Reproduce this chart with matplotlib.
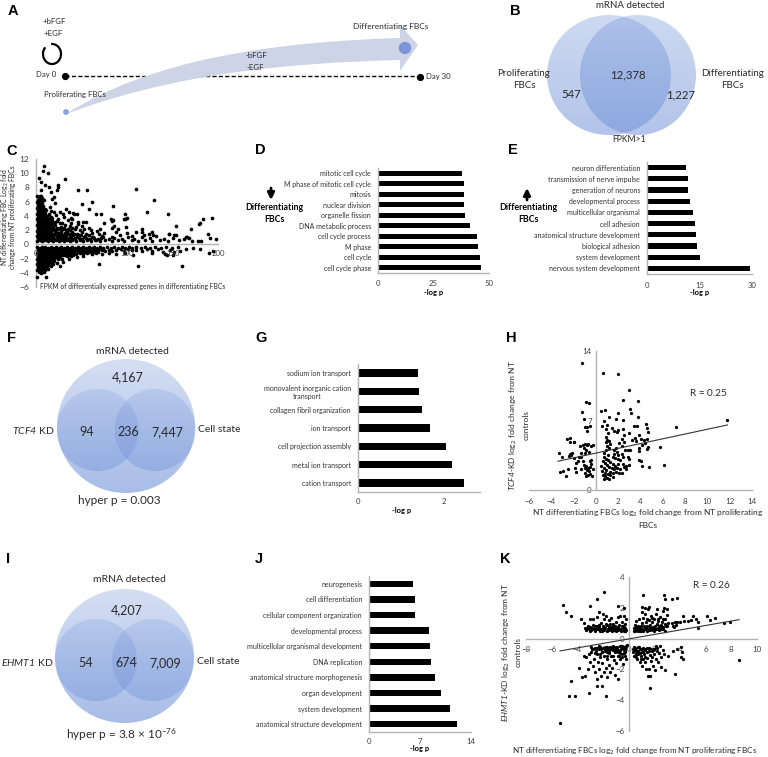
import numpy as np
import matplotlib
matplotlib.use('Agg')
from matplotlib import pyplot as plt
from matplotlib.patches import Ellipse, Circle, Arc, PathPatch
from matplotlib.path import Path

plt.rcParams['font.family'] = ['Lato', 'DejaVu Sans']
plt.rcParams['mathtext.fontset'] = 'custom'
plt.rcParams['mathtext.rm'] = 'Lato:italic'
plt.rcParams['mathtext.default'] = 'regular'

# bar panels, listed bottom to top
d_terms = ['cell cycle phase', 'cell cycle', 'M phase', 'cell cycle process', 'DNA metabolic process',
           'organelle fission', 'nuclear division', 'mitosis', 'M phase of mitotic cell cycle', 'mitotic cell cycle']
d_vals = [46.4, 45.8, 45.1, 44.8, 41.5, 39.4, 38.8, 38.8, 38.8, 37.9]
e_terms = ['nervous system development', 'system development', 'biological adhesion',
           'anatomical structure development', 'cell adhesion', 'multicellular organismal',
           'developmental process', 'generation of neurons', 'transmission of nerve impulse',
           'neuron differentiation']
e_vals = [29.3, 15.0, 14.2, 14.0, 13.8, 13.1, 12.4, 11.7, 11.6, 11.0]
g_terms = ['cation transport', 'metal ion transport', 'cell projection assembly', 'ion transport',
           'collagen fibril organization', 'monovalent inorganic cation\ntransport', 'sodium ion transport']
g_vals = [2.45, 2.17, 2.03, 1.68, 1.48, 1.41, 1.39]
j_terms = ['anatomical structure development', 'system development', 'organ development',
           'anatomical structure morphogenesis', 'DNA replication', 'multicellular organismal development',
           'developmental process', 'cellular component organization', 'cell differentiation', 'neurogenesis']
j_vals = [12.07, 11.05, 9.95, 9.07, 8.52, 8.34, 8.2, 6.31, 6.26, 6.03]

# panel C, FPKM against log2 fold change
c_upper = [(1,.5),(4,.6),(7,.45),(10,.55),(13,.5),(16,.6),(19,.45),(22,.55),(25,.5),(28,.6),(31,.45),(34,.55),
           (37,.5),(40,.6),(44,.45),(48,.55),(52,.5),(56,.6),(60,.45),(65,.55),(70,.5),(76,.6),(83,.45),(90,.55),
           (97,.5),(105,.6),(112,.45),(120,.55),(128,.5),(136,.6),(145,.5),(2,.85),(5,.8),(8,.9),(11,.8),(14,.85),
           (17,.9),(20,.8),(24,.85),(27,.95),(30,.8),(33,.85),(36,.95),(40,.8),(43,.9),(47,.85),(51,.8),(55,.95),
           (59,.8),(64,.9),(68,.75),(74,1.0),(80,.8),(86,.95),(94,.8),(101,1.0),(108,.75),(116,1.1),(125,.9),
           (1,1.15),(4,1.2),(7,1.1),(10,1.2),(13,1.15),(16,1.25),(19,1.1),(23,1.2),(26,1.3),(29,1.1),(33,1.25),
           (37,1.15),(41,1.3),(45,1.1),(49,1.35),(54,1.15),(58,1.3),(63,1.1),(69,1.4),(73,1.2),(84,1.1),(92,1.3),
           (105,1.2),(119,1.3),(129,1.3),(2,1.5),(5,1.55),(8,1.45),(11,1.5),(14,1.6),(18,1.45),(21,1.55),(24,1.65),
           (28,1.5),(32,1.6),(36,1.45),(40,1.7),(45,1.5),(50,1.75),(55,1.5),(61,1.6),(67,1.85),(75,1.6),(88,1.7),
           (100,1.6),(128,1.75),(1,1.9),(4,1.95),(7,1.85),(10,2.0),(13,1.9),(16,2.0),(20,1.95),(24,2.1),(28,1.9),
           (33,2.05),(37,1.95),(43,2.15),(48,2.0),(53,2.2),(60,2.05),(70,2.2),(84,2.3),(117,2.1),(2,2.3),(5,2.35),
           (8,2.25),(11,2.4),(15,2.3),(19,2.45),(23,2.35),(27,2.5),(31,2.3),(37,2.55),(44,2.4),(50,2.6),(58,2.35),
           (86,2.6),(99,2.5),(1,2.7),(4,2.75),(7,2.65),(10,2.8),(13,2.7),(17,2.9),(21,2.75),(26,2.95),(32,2.7),
           (38,3.0),(46,2.8),(55,3.1),(84,3.3),(2,3.1),(5,3.15),(8,3.05),(11,3.2),(14,3.1),(18,3.25),(23,3.35),
           (29,3.05),(35,3.4),(46,3.2),(52,3.1),(82,3.55),(1,3.5),(4,3.55),(7,3.45),(10,3.6),(14,3.5),(18,3.7),
           (24,3.55),(31,3.8),(40,3.6),(85,3.4),(98,3.6),(2,3.9),(5,3.95),(8,3.85),(12,4.0),(16,3.9),(22,4.1),
           (30,4.25),(42,4.3),(1,4.3),(4,4.35),(7,4.25),(10,4.4),(14,4.3),(20,4.5),(36,4.55),(45,4.2),(2,4.7),
           (5,4.75),(8,4.65),(11,4.8),(16,4.7),(26,4.6),(1,5.1),(4,5.15),(7,5.05),(10,5.0),(15,5.2),(2,5.5),
           (5,5.55),(8,5.45),(1,5.9),(4,5.95),(7,5.85),(2,6.3),(5,6.35),(9,6.25),(1,6.8),(4,6.85),(6,6.75),
           (150,.9),(157,.6),(163,.7),(166,1.1),(168,.9),(171,.5),(178,.4),(154,1.3),(146,1.4),(141,.8),(132,1.2)]
c_lower = [(1,-.4),(4,-.45),(7,-.35),(10,-.4),(13,-.5),(16,-.35),(19,-.45),(22,-.4),(25,-.5),(28,-.35),(31,-.45),
           (34,-.4),(37,-.5),(40,-.35),(43,-.45),(46,-.4),(49,-.5),(52,-.35),(55,-.45),(58,-.4),(61,-.5),(64,-.35),
           (67,-.45),(70,-.4),(74,-.5),(78,-.35),(82,-.45),(86,-.4),(90,-.5),(94,-.35),(98,-.45),(102,-.4),(106,-.5),
           (110,-.35),(115,-.45),(120,-.4),(125,-.5),(131,-.35),(137,-.45),(143,-.4),(149,-.5),(156,-.4),(2,-.8),
           (5,-.85),(8,-.75),(11,-.8),(14,-.9),(17,-.75),(20,-.85),(23,-.8),(26,-.9),(29,-.75),(32,-.85),(35,-.8),
           (38,-.9),(41,-.75),(44,-.85),(47,-.8),(50,-.9),(53,-.75),(56,-.85),(59,-.8),(62,-.95),(65,-.75),(68,-.85),
           (72,-.8),(76,-1.0),(80,-.75),(84,-.9),(88,-.8),(93,-.7),(97,-.95),(101,-.7),(106,-.85),(110,-.75),
           (116,-.9),(122,-.7),(128,-.95),(134,-.7),(140,-1.05),(147,-.8),(152,-1.1),(158,-.9),(1,-1.2),(4,-1.25),
           (7,-1.15),(10,-1.2),(13,-1.3),(16,-1.15),(19,-1.25),(22,-1.2),(25,-1.3),(28,-1.15),(31,-1.25),(34,-1.2),
           (37,-1.35),(40,-1.15),(44,-1.3),(48,-1.2),(52,-1.35),(56,-1.15),(61,-1.3),(66,-1.2),(72,-1.4),(80,-1.2),
           (88,-1.3),(98,-1.2),(107,-1.45),(128,-1.2),(142,-1.3),(144,-1.5),(150,-1.45),(2,-1.6),(5,-1.65),(8,-1.55),
           (11,-1.6),(14,-1.7),(17,-1.55),(20,-1.65),(23,-1.6),(26,-1.7),(30,-1.55),(34,-1.7),(38,-1.6),(45,-1.75),
           (52,-1.65),(1,-2.0),(4,-2.05),(7,-1.95),(10,-2.0),(13,-2.1),(16,-1.95),(20,-2.05),(24,-2.0),(29,-2.1),
           (36,-2.0),(2,-2.4),(5,-2.45),(8,-2.35),(11,-2.4),(14,-2.5),(18,-2.35),(23,-2.6),(30,-2.5),(1,-2.8),
           (4,-2.85),(7,-2.75),(10,-2.8),(13,-2.9),(19,-2.8),(26,-3.1),(2,-3.2),(5,-3.25),(8,-3.15),(11,-3.2),
           (16,-3.1),(1,-3.6),(4,-3.65),(7,-3.55),(10,-3.6),(13,-3.5),(3,-3.95),(6,-4.05),(9,-3.9),(1,-4.6),(11,-4.6),
           (69,-2.8),(112,-3.0),(160,-3.0),(194,-.9),(180,-.6),(165,-.7),(172,-.45),(190,-1.2)]
c_fill = [(3,.7),(6,1.0),(9,.65),(12,1.0),(15,.7),(18,1.0),(21,.7),(25,1.05),(28,.7),(31,1.05),(35,.7),(38,1.05),
          (42,.7),(46,1.05),(50,.65),(53,1.0),(57,.7),(62,1.0),(66,.65),(71,.95),(3,1.35),(6,1.35),(9,1.3),(12,1.35),
          (15,1.4),(17,1.7),(20,1.3),(22,1.75),(25,1.4),(27,1.75),(30,1.35),(34,1.75),(38,1.4),(42,1.5),(47,1.3),
          (3,1.75),(6,1.7),(9,1.7),(12,1.7),(3,2.1),(6,2.1),(9,2.05),(12,2.15),(15,2.05),(18,2.2),(22,2.1),(26,2.25),
          (30,2.1),(35,2.2),(40,2.3),(3,2.5),(6,2.5),(9,2.5),(12,2.5),(16,2.55),(3,2.9),(6,2.9),(9,2.95),(12,2.95),
          (15,2.95),(19,3.0),(3,3.3),(6,3.3),(9,3.35),(12,3.35),(16,3.4),(21,3.1),(3,3.7),(6,3.7),(9,3.75),(12,3.7),
          (3,4.1),(6,4.1),(9,4.15),(14,4.1),(3,4.5),(6,4.55),(9,4.55),(3,4.95),(6,4.95),(3,5.3),(6,5.3),(3,5.7),(6,5.75),
          (3,6.1),(6,6.1),(3,6.55),(7,6.5),(3,-.65),(6,-.6),(9,-.6),(12,-.65),(15,-.65),(18,-.6),(21,-.65),(24,-.65),
          (27,-.6),(30,-.65),(33,-.6),(36,-.65),(39,-.6),(42,-.65),(45,-.6),(48,-.65),(51,-.6),(54,-.65),(57,-.6),
          (60,-.65),(63,-.65),(66,-.6),(70,-.65),(74,-.65),(3,-1.0),(6,-1.0),(9,-1.0),(12,-1.05),(15,-1.0),(18,-1.05),
          (21,-1.0),(24,-1.05),(27,-1.0),(30,-1.05),(33,-1.0),(36,-1.1),(39,-1.05),(42,-1.05),(46,-1.05),(50,-1.1),
          (54,-1.05),(58,-1.1),(63,-1.05),(68,-1.1),(3,-1.4),(6,-1.4),(9,-1.4),(12,-1.45),(15,-1.4),(18,-1.45),(21,-1.4),
          (24,-1.45),(27,-1.45),(32,-1.45),(36,-1.5),(41,-1.45),(3,-1.8),(6,-1.8),(9,-1.8),(12,-1.85),(15,-1.8),(19,-1.85),
          (22,-1.8),(26,-1.9),(3,-2.2),(6,-2.2),(9,-2.2),(12,-2.25),(15,-2.25),(20,-2.3),(3,-2.6),(6,-2.6),(9,-2.6),
          (12,-2.65),(16,-2.65),(3,-3.0),(6,-3.0),(9,-3.0),(12,-3.05),(3,-3.4),(6,-3.4),(9,-3.4),(12,-3.35)]
c_sparse = [(9,11),(8,10.3),(13,10),(3,9.3),(5.5,8.8),(10,8.3),(14,8.1),(32,9.2),(24,8.3),(24,8),(23,7.7),(46,7.6),
            (55.5,7.7),(110,7.85),(16,7.3),(5,7.6),(20,6.6),(17.5,6.4),(21,5.8),(130,6.2),(62,5.9),(50,5.7),(85,5.4),
            (33,4.9),(58,4.9),(122,4.6),(145,4.2),(98,4.3),(193,3.7),(183,3.5),(180,3),(179,2.8),(154,2.6),(170,2.2),
            (189,1.4),(191,.9),(198,.75),(181,.4),(165,1.0),(97,3.6),(100,3.65),(41,4.4),(38,3.7),(66,4.3),(71,4.2),
            (75,3.0),(90,2.2),(110,1.7),(117,1.7),(124,1.4),(146,1.4),(152,1.3)]

# panel H
h_points = [(-1.26,12.8),(.6,11.8),(2,11.7),(3,10.1),(2.46,9.06),(3.75,8.96),(-.87,8.83),(-.63,8.73),(3.03,8.2),
            (3.18,7.8),(3.75,7.4),(.5,8),(.78,8.06),(-1.29,7.86),(1.15,7.4),(1.95,7.75),(1.8,7.2),(2.45,7.1),(.75,6.95),
            (-1.1,7.2),(7.14,6.35),(11.78,7.09),(5.73,4.3),(6.15,2.47),(4.77,2.27),(-.55,6.4),(-1,6.3),(-.8,6.35),
            (.55,6.45),(1,6.55),(1.4,6.2),(2.0,6.0),(2.4,6.1),(3.4,6.45),(3.7,6.45),(4.5,6.6),(4.6,6.2),(4.7,5.8),
            (3.0,5.7),(1.6,5.9),(1.9,5.85),(.9,6.1),(1.1,5.7),(3.5,5.2),(3.9,5.5),(2.5,5.5),(2.3,5.1),(2.1,4.7),
            (2.5,4.85),(4.0,5.1),(4.3,5.0),(4.6,5.15),(3.2,5.0),(3.6,4.95),(4.4,4.7),(4.1,4.5),(3.9,4.2),(4.7,4.3),
            (4.55,4.15),(3.85,3.9),(3.1,4.0),(2.9,4.0),(2.6,4.05),(2.3,4.4),(1.8,4.2),(1.6,4.0),(.95,5.3),(1,5.05),
            (1.2,4.95),(.95,4.8),(1.3,4.6),(1.0,4.4),(1.15,4.2),(.9,4.05),(.75,3.75),(1.05,3.55),(1.6,3.6),(1.85,3.85),
            (2.0,3.55),(2.3,3.6),(1.5,3.3),(1.7,3.2),(1.95,3.1),(2.2,3.0),(2.4,3.3),(2.9,3.3),(.7,3.35),(.9,3.1),
            (1.1,3.0),(.6,2.9),(.8,2.7),(1.0,2.5),(1.25,2.8),(1.5,2.6),(1.75,2.45),(2.0,2.65),(2.4,2.6),(2.7,2.4),
            (3.0,2.5),(3,3.15),(.5,2.4),(.7,2.2),(.95,2.05),(1.15,2.3),(1.4,2.2),(1.6,2.1),(1.9,2.2),(2.2,2.15),
            (2.5,2.3),(2.7,2.1),(.55,1.9),(.8,1.75),(1.05,1.6),(1.25,1.85),(1.5,1.75),(1.8,1.85),(2.1,1.7),(2.35,1.75),
            (.6,1.55),(.85,1.4),(1.0,1.25),(1.3,1.5),(1.55,1.35),(.75,1.15),(1.15,1.1),(3.9,3.0),(4.05,2.95),(4.15,2.45),
            (-3.35,3.7),(-3.2,1.8),(-2.95,1.9),(-3,3.3),(-2.7,1.4),(-2.6,5.1),(-2.3,5.2),(-2.1,3.7),(-2.35,3.6),(-2.4,3.4),
            (-2.2,3.5),(-2.5,2.1),(-2,4.8),(-1.95,4.8),(-2.3,4.85),(-2,3.2),(-1.8,2.7),(-1.9,2.2),(-1.8,1.8),(-1.6,2.9),
            (-1.5,3.3),(-1.35,3.35),(-1.3,3.7),(-1.2,4.5),(-1,4.6),(-.8,4.5),(-.7,4.6),(-1.1,4.2),(-.9,4),(-1,3.7),(-.6,3.8),
            (-1.2,2.9),(-1.1,2.5),(-1,2.2),(-.9,2.4),(-.8,2),(-.7,2.2),(-.6,1.9),(-.5,1.6),(-1,1.7),(-1.3,2.1),(-.55,2.3),
            (-.45,2.6),(-.4,3),(-.5,2.9),(-.7,1.5),(-.9,1.4),(-.35,1.4),(-.3,2.1),(-.8,5.9),(-1.4,4.4),(-.45,4.4),(-.3,4.5)]

# panel K
k_points = [(-5.1,2.2),(-4.9,1.7),(-4.5,1.45),(-3.7,1.3),(-3.5,1.0),(-3.4,.7),(-3.3,.55),(-3.2,.85),(-3.1,.6),(-3,1.25),
            (-3,.75),(-2.9,.55),(-2.8,.9),(-2.75,1.3),(-2.7,.65),(-2.6,.5),(-2.5,.85),(-2.45,1.4),(-2.4,.6),(-2.3,.75),
            (-2.2,.5),(-2.15,1.0),(-2.1,.65),(-2,.85),(-1.95,.55),(-1.9,1.3),(-1.85,.7),(-1.8,1.45),(-1.7,.5),(-1.65,.9),
            (-1.6,.65),(-1.55,1.2),(-1.5,.55),(-1.4,.75),(-1.35,1.35),(-1.3,.5),(-1.25,.95),(-1.2,.65),(-1.15,.55),(-1.1,.8),
            (-1,.5),(-.95,1.1),(-.9,.7),(-.85,1.4),(-.8,.55),(-.75,.9),(-.7,.65),(-.65,1.5),(-.6,.5),(-.55,.8),(-.5,1.05),
            (-.45,.6),(-.4,1.5),(-.35,.75),(-.3,.5),(-.28,.95),(-.25,.65),(-.22,1.3),(-.2,.55),(-2.5,2.55),(-2.0,1.6),
            (-3.0,2.1),(-1.9,3.05),(-.8,2.1),(-.4,2.0),(-2.3,1.7),
            (.4,.5),(.45,.7),(.5,.9),(.55,.55),(.6,1.15),(.65,.65),(.7,.5),(.75,.85),(.8,1.3),(.85,.6),(.9,.75),(.95,.5),
            (1,1.0),(1.05,.65),(1.1,1.35),(1.15,.55),(1.2,.8),(1.25,1.6),(1.3,.6),(1.35,1.1),(1.4,.5),(1.45,.85),(1.5,1.9),
            (1.55,.65),(1.6,1.2),(1.65,.55),(1.7,.9),(1.75,1.45),(1.8,.6),(1.85,1.05),(1.9,.75),(1.95,.5),(2,1.3),(2.05,.85),
            (2.1,.6),(2.15,1.6),(2.2,.95),(2.25,.7),(2.3,1.15),(2.35,.55),(2.4,.8),(2.45,1.4),(2.5,.9),(2.55,.65),(2.6,1.05),
            (2.65,1.8),(2.7,.75),(2.75,2.0),(2.8,.95),(2.85,1.25),(2.9,.85),(2.95,1.55),(3,1.9),(3.05,1.0),(3.4,1.0),(3.45,.85),
            (3.5,.75),(3.6,1.05),(3.7,.9),(3.8,1.1),(4,1.1),(4.2,1.5),(4.35,1.15),(4.6,1.15),(4.85,1.2),(5,1.5),(5.25,1.3),
            (5.4,1.1),(5.4,.7),(6.1,1.5),(6.35,1.2),(6.7,1.35),(7.4,1.0),(7.9,1.05),(1.1,2.8),(1.3,2.0),(1.6,2.05),(2.75,2.8),
            (2.85,2.6),(3.4,2.55),(3.8,2.65),(2.8,.5),(1.0,2.05),(1.05,1.7),(2.2,1.9),
            (-5.35,-5.45),(-4.65,-3.7),(-4.2,-3.75),(-3.85,-1.9),(-4.5,-2.75),(-3.1,-3.55),(-1.75,-3.75),(-2.5,-3.1),(-2.05,-3.1),
            (-3.6,-2.5),(-3.4,-2.4),(-3.3,-1.2),(-3.1,-1.0),(-3.5,-1.1),(-3.2,-2.0),(-3,-1.55),(-2.95,-.9),(-2.8,-1.8),(-2.7,-1.3),
            (-2.6,-2.2),(-2.6,-.6),(-2.5,-1.0),(-2.45,-2.6),(-2.4,-1.5),(-2.35,-.7),(-2.3,-2.0),(-2.25,-1.2),(-2.2,-.55),(-2.15,-2.4),
            (-2.1,-.9),(-2.05,-1.6),(-2,-.6),(-1.95,-2.2),(-1.9,-1.1),(-1.85,-.8),(-1.8,-1.9),(-1.75,-.55),(-1.7,-2.5),(-1.65,-1.3),
            (-1.6,-.7),(-1.55,-1.7),(-1.5,-.95),(-1.45,-2.2),(-1.4,-.6),(-1.35,-1.15),(-1.3,-1.9),(-1.25,-.75),(-1.2,-.5),(-1.15,-1.4),
            (-1.1,-2.35),(-1.05,-.9),(-1,-.55),(-.95,-1.6),(-.9,-.7),(-.85,-1.15),(-.8,-2.6),(-.75,-.8),(-.7,-.5),(-.65,-1.3),(-.6,-.65),
            (-.55,-1.0),(-.5,-.5),(-.45,-1.65),(-.4,-.75),(-.35,-.55),(-.3,-1.1),(-.28,-.85),(-.25,-.6),(-.22,-1.3),(-.2,-.5),
            (-2.9,-.55),(-2.75,-.7),(-2.65,-.95),(-2.3,-.5),(-1.95,-.6),(-1.7,-.85),(-1.45,-.55),(-1.15,-.6),(-.95,-.8),(-.7,-.95),
            (.3,-.65),(.35,-.9),(.4,-1.1),(.45,-.55),(.5,-.75),(.55,-1.0),(.6,-.6),(.65,-1.3),(.7,-.8),(.75,-1.0),(.8,-.55),(.85,-1.55),
            (.9,-.7),(.95,-1.15),(1,-.9),(1.05,-1.75),(1.1,-.6),(1.15,-1.3),(1.2,-1.0),(1.25,-.75),(1.3,-1.5),(1.35,-2.0),(1.4,-.9),
            (1.45,-1.25),(1.5,-2.4),(1.55,-.6),(1.6,-2.0),(1.65,-1.05),(1.7,-2.45),(1.75,-1.45),(1.8,-.8),(1.85,-1.2),(1.9,-1.75),(1.95,-.65),
            (2,-1.0),(2.05,-2.05),(2.1,-.5),(2.15,-1.3),(2.2,-.8),(2.3,-1.5),(2.4,-.95),(2.45,-.5),(2.5,-1.2),(2.55,-1.85),(2.65,-.75),
            (2.75,-1.0),(2.8,-2.05),(3.05,-1.1),(3.45,-.8),(3.6,-2.3),(3.8,-.7),(4.05,-.55),(4.1,-1.2),(4.15,-.85),(4.2,-1.35),
            (1.65,-3.2),(8.6,-1.4),(-.1,-.4)]
k_fill = [(-3.25,.7),(-3.05,.5),(-2.85,.7),(-2.65,.85),(-2.55,.6),(-2.35,.9),(-2.25,.6),(-2.05,.5),(-1.9,.75),(-1.75,.95),(-1.55,.75),
          (-1.45,.95),(-1.35,.65),(-1.2,.85),(-1.05,.65),(-.95,.55),(-.85,.75),(-.65,.6),(-.55,.55),(-.45,.85),(-.4,.5),(-.3,.7),(-.25,.5),
          (.5,.5),(.6,.75),(.7,.65),(.85,.5),(.95,.85),(1.1,.5),(1.25,.65),(1.35,.7),(1.5,.55),(1.6,.8),(1.75,.7),(1.9,.55),(2,.7),(2.2,.6),
          (2.4,.65),(2.55,.8),(2.7,.6),(3,.8),(1.4,1.3),(1.85,1.35),(2.25,1.3),(2.65,1.3),(-2.85,-.7),(-2.55,-.8),(-2.45,-.6),(-2.15,-.7),
          (-2.05,-.85),(-1.8,-.65),(-1.65,-.55),(-1.55,-.8),(-1.35,-.7),(-1.3,-.55),(-1.1,-.8),(-1.05,-.6),(-.9,-.55),(-.8,-.85),(-.65,-.75),
          (-.6,-.5),(-.45,-.6),(-.4,-.95),(-.3,-.6),(-.25,-.75),(-1.7,-1.1),(-1.2,-1.1),(-.75,-1.1),(-.5,-1.2),(-2.2,-1.0),(.4,-.7),(.55,-.8),
          (.7,-.55),(.85,-.95),(1,-.65),(1.15,-.85),(1.3,-.7),(1.45,-.6),(1.6,-.8),(1.75,-.65),(2.0,-.7),(2.2,-.6),(.6,-1.2),(.95,-1.35),(1.3,-1.2)]

h_trend_x = [-3.4, 11.8]
h_trend_y = [2.9, 6.55]
k_trend_x = [-5.35, 8.6]
k_trend_y = [-.8, 1.23]

W, H = 768, 757
fig = plt.figure(figsize=(W / 100, H / 100), dpi=100)
GREY = '#b4b4b4'
TXT = '#2a2a2a'


def panel(left, top, right, bottom):
    ax = fig.add_axes([left / W, 1 - bottom / H, (right - left) / W, (bottom - top) / H])
    ax.patch.set_alpha(0)
    for side in ['top', 'right']:
        ax.spines[side].set_visible(False)
    for side in ['left', 'bottom']:
        ax.spines[side].set_color(GREY)
        ax.spines[side].set_linewidth(1.0)
    ax.tick_params(length=0, labelsize=5.6, labelcolor='#404040')
    return ax


def bar_panel(rect, terms, vals, xmax, xticks, bar_h, tick_y, label_y, pad=5):
    ax = panel(*rect)
    ax.barh(range(len(terms)), vals, height=bar_h, color='black')
    ax.set_ylim(-.5, len(terms) - .5)
    ax.set_xlim(0, xmax)
    ax.set_xticks(xticks)
    ax.set_yticks(range(len(terms)))
    ax.set_yticklabels(terms, fontsize=5.05, color='#333333', ma='center')
    ax.tick_params(axis='y', pad=pad)
    # tick numbers and axis name go on the overlay so they land on exact pixels
    ax.set_xticklabels([])
    for t in xticks:
        px = rect[0] + (rect[2] - rect[0]) * t / xmax
        over.text(px, tick_y, str(t), fontsize=5.6, color='#404040', ha='center', va='center')
    mid = rect[0] + (rect[2] - rect[0]) * xticks[-1] / xmax / 2
    over.text(mid, label_y, '-log p', fontsize=5.4, fontweight='bold', ha='center', va='center')
    return ax


def grad_shape(cx, cy, rx, ry, a_top, a_bot, rgb=(.45, .58, .85), z=1):
    arr = np.zeros((80, 1, 4))
    arr[..., :3] = rgb
    arr[..., 3] = np.linspace(a_top, a_bot, 80)[:, None]
    im = over.imshow(arr, extent=(cx - rx, cx + rx, cy + ry, cy - ry), aspect='auto',
                     zorder=z, interpolation='bilinear')
    im.set_clip_path(Ellipse((cx, cy), 2 * rx, 2 * ry, transform=over.transData))


def label(x, y, s, size=7.6, **kw):
    kw.setdefault('ha', 'center')
    kw.setdefault('va', 'center')
    kw.setdefault('color', TXT)
    over.text(x, y, s, fontsize=size, zorder=6, **kw)


# overlay in reference pixel coordinates
over = fig.add_axes([0, 0, 1, 1], zorder=5)
over.set_xlim(0, W)
over.set_ylim(H, 0)
over.axis('off')
over.patch.set_alpha(0)
over.autoscale(False)

# A
over.add_patch(PathPatch(Path([(66, 114), (150, 60), (270, 42), (400, 38), (400, 25), (418, 45), (400, 71), (400, 60),
                               (280, 63), (170, 75), (66, 114)],
                              [Path.MOVETO, Path.CURVE4, Path.CURVE4, Path.CURVE4, Path.LINETO, Path.LINETO, Path.LINETO,
                               Path.LINETO, Path.CURVE4, Path.CURVE4, Path.CURVE4]),
                         facecolor='#ccd4e6', edgecolor='none', zorder=2))
over.plot([65, 420], [76, 76], color='black', lw=1, ls=(0, (3, 1.6)), zorder=1)
over.plot([65, 420], [76, 77], 'o', color='black', ms=4.2, zorder=3)
over.add_patch(Circle((405, 48), 5.5, color='#7b96d8', zorder=3))
over.add_patch(Circle((66, 112), 2.2, color='#8aa3dd', zorder=3))
over.add_patch(Arc((52, 54), 18, 20, theta1=265, theta2=225, color='black', lw=1.6, zorder=3))
label(54, 21, '+bFGF', 5.6)
label(53, 33, '+EGF', 5.6)
label(46, 75, 'Day 0', 5.6)
label(438, 77, 'Day 30', 5.6)
label(391, 27, 'Differentiating FBCs', 6.0)
label(256, 55, '-bFGF', 5.6)
label(255, 67, '-EGF', 5.6)
label(75, 95, 'Proliferating FBCs', 5.6)

# B
grad_shape(609, 75, 62, 60, .35, .55)
grad_shape(638, 75, 58, 60, .35, .55)
label(630, 6, 'mRNA detected', 7)
label(629, 140, 'FPKM>1', 6.2)
label(524, 73, 'Proliferating', 7)
label(524, 86, 'FBCs', 7)
label(732, 73, 'Differentiating', 7)
label(732, 86, 'FBCs', 7)
label(628, 75, '12,378', 8.2)
label(571, 95, '547', 8.2)
label(681, 95, '1,227', 8.2)

# F
grad_shape(126, 426, 69, 67, .3, .62)
grad_shape(97.5, 430, 41, 41, .22, .42, z=2)
grad_shape(155, 430, 40.5, 41, .22, .42, z=2)
label(132, 351, 'mRNA detected', 7.5)
label(128, 377, '4,167', 9)
label(87, 432, '94', 9)
label(128, 432, '236', 9)
label(167, 432, '7,447', 9)
label(33, 430, r'$\mathrm{TCF4}$ KD', 7.5)
label(219, 430, 'Cell state', 7.5)
label(119, 500, 'hyper p = 0.003', 8.5)

# I
grad_shape(124.5, 656, 69.5, 67, .3, .62)
grad_shape(96, 660, 41, 41, .22, .42, z=2)
grad_shape(153, 660, 41, 41, .22, .42, z=2)
label(129, 580, 'mRNA detected', 7.5)
label(127, 610, '4,207', 9)
label(86, 663, '54', 9)
label(126, 663, '674', 9)
label(165, 663, '7,009', 9)
label(27, 662, r'$\mathrm{EHMT1}$ KD', 7.5)
label(218, 662, 'Cell state', 7.5)
label(122, 735, r'hyper p = 3.8 × 10$^{-76}$', 8.5)

# C
ax_c = panel(36, 159, 218, 287)
for pts in [c_upper, c_lower, c_fill, c_sparse]:
    px, py = np.array(pts).T
    ax_c.scatter(px, py, s=7, color='black', linewidths=0, zorder=3, clip_on=False)
ax_c.set_xlim(0, 200)
ax_c.set_ylim(-6, 12)
ax_c.spines['bottom'].set_position(('data', 0))
ax_c.set_yticks(range(-6, 13, 2))
ax_c.set_xticks([])
ax_c.tick_params(axis='y', labelsize=6, pad=5)
for t, px in zip([0, 100, 150, 200], [36, 127, 173, 218]):
    label(px, 254, str(t), 5.6, color='#404040')
label(5, 217, r'NT differentiating FBC Log$_2$ fold', 4.9, rotation=90)
label(13, 217, 'change from NT proliferating FBCs', 4.9, rotation=90)
label(133, 286, 'FPKM of differentially expressed genes in differentiating FBCs', 4.9)

# D, E, G, J
bar_panel((378, 168, 489, 273), d_terms, d_vals, 50, [0, 25, 50], .45, 283, 292)
bar_panel((647, 162, 752, 274), e_terms, e_vals, 30, [0, 15, 30], .45, 285, 292)
bar_panel((358, 364, 480, 492), g_terms, g_vals, 2.83, [0, 2], .4, 502, 511)
bar_panel((369, 576, 471, 732), j_terms, j_vals, 14, [0, 7, 14], .4, 742, 749)
over.annotate('', xy=(271, 200), xytext=(271, 188), arrowprops=dict(arrowstyle='-|>', lw=2, color='black', shrinkA=0, shrinkB=0))
over.annotate('', xy=(527, 188), xytext=(527, 200), arrowprops=dict(arrowstyle='-|>', lw=2, color='black', shrinkA=0, shrinkB=0))
label(274, 208, 'Differentiating', 6.3, fontweight='bold', color='black')
label(274, 219, 'FBCs', 6.3, fontweight='bold', color='black')
label(528, 208, 'Differentiating', 6.3, fontweight='bold', color='black')
label(528, 219, 'FBCs', 6.3, fontweight='bold', color='black')

# H
ax_h = panel(529, 351, 752, 490)
px, py = np.array(h_points).T
ax_h.scatter(px, py, s=5.5, color='black', linewidths=0, zorder=3)
ax_h.plot(h_trend_x, h_trend_y, color='#333333', lw=.8, zorder=3)
ax_h.set_xlim(-6, 14)
ax_h.set_ylim(0, 14)
ax_h.spines['left'].set_position(('data', 0))
ax_h.set_xticks(range(-6, 15, 2))
ax_h.set_yticks([0, 7, 14])
ax_h.tick_params(labelsize=5.8, pad=6)
ax_h.tick_params(axis='y', pad=3)
label(708, 393, 'R = 0.25', 7.2)
label(513, 425, r'$\mathrm{TCF4}$-KD log$_2$ fold change from NT', 6, rotation=90)
label(526, 425, 'controls', 6, rotation=90)
label(648, 513, r'NT differentiating FBCs log$_2$ fold change from NT proliferating', 6.05)
label(648, 525, 'FBCs', 6.05)

# K
ax_k = panel(526, 577, 757, 731)
for pts in [k_points, k_fill]:
    px, py = np.array(pts).T
    ax_k.scatter(px, py, s=5.5, color='black', linewidths=0, zorder=3)
ax_k.plot(k_trend_x, k_trend_y, color='#333333', lw=.8, zorder=3)
ax_k.set_xlim(-8, 10)
ax_k.set_ylim(-6, 4)
ax_k.spines['left'].set_position(('data', 0))
ax_k.spines['bottom'].set_position(('data', 0))
ax_k.set_xticks([t for t in range(-8, 11, 2)])
ax_k.set_yticks([t for t in range(-6, 5, 2)])
ax_k.tick_params(labelsize=5.8, pad=5)
ax_k.tick_params(axis='y', pad=3)
label(711, 585, 'R = 0.26', 7.2)
label(506, 652, r'$\mathrm{EHMT1}$-KD log$_2$ fold change from NT', 6, rotation=90)
label(518, 652, 'controls', 6, rotation=90)
label(635, 751, r'NT differentiating FBCs log$_2$ fold change from NT proliferating FBCs', 5.9)

# panel letters
for letter, lx, ly in [('A', 13, 11), ('B', 515, 11), ('C', 12, 151), ('D', 260, 150), ('E', 513, 150), ('F', 11, 338),
                       ('G', 261, 338), ('H', 511, 338), ('I', 8, 559), ('J', 259, 559), ('K', 505, 559)]:
    over.text(lx, ly, letter, fontsize=10.5, fontweight='bold', family='Liberation Sans', ha='center', va='center', color='black')

over.set_xlim(0, W)
over.set_ylim(H, 0)
fig.savefig('out.png', dpi=100)
